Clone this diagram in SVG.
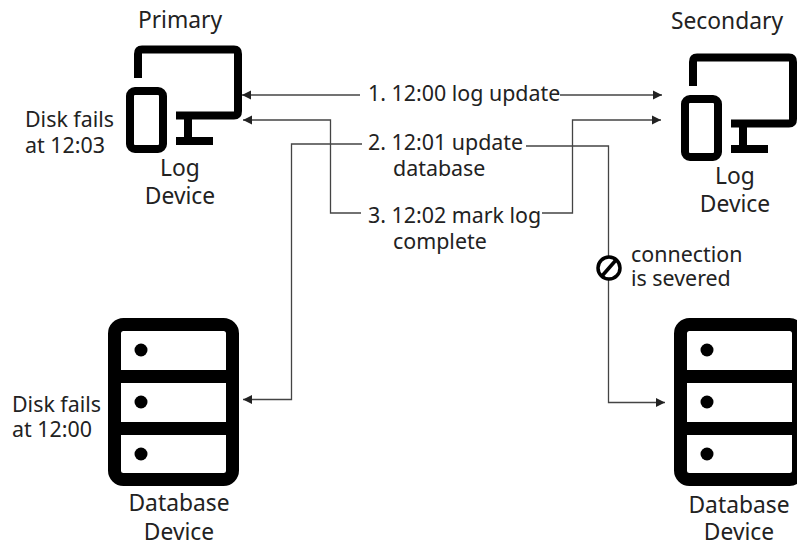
<svg xmlns="http://www.w3.org/2000/svg" width="797" height="546" viewBox="0 0 797 546">
<style>
text{font-family:"Noto Sans","Open Sans",sans-serif;font-size:21.400px;fill:#222}
.m{text-anchor:middle;font-size:22.800px}
.ic{fill:none;stroke:#000;stroke-width:8;stroke-linejoin:round}
.db{fill:none;stroke:#000;stroke-width:13}
.dot{fill:#000}
.c{fill:none;stroke:#444;stroke-width:1.300}
</style>
<defs>
<marker id="a" markerUnits="userSpaceOnUse" markerWidth="10" markerHeight="10" refX="9" refY="5" orient="auto"><path d="M0,0.5L9,5L0,9.5Z" fill="#222"/></marker>
<g id="mon"><path class="ic" d="M138,78V54Q138,49.500 142,49.500H234Q238,49.500 238,54V111Q238,115.500 234,115.500H176M188,116V141M176,141H213"/><rect class="ic" x="130" y="91" width="33" height="58" rx="5"/></g>
<g id="dbi"><rect class="db" x="114.500" y="324.500" width="118" height="155" rx="9"/><path class="db" d="M114,376.500H232M114,428.500H232"/><circle class="dot" cx="141" cy="350" r="6.500"/><circle class="dot" cx="141" cy="402" r="6.500"/><circle class="dot" cx="141" cy="454" r="6.500"/></g>
</defs>
<g id="connectors">
<path class="c" marker-end="url(#a)" d="M360,95H242"/>
<path class="c" marker-end="url(#a)" d="M560,95H662"/>
<path class="c" marker-end="url(#a)" d="M361,213H330.500V120H243"/>
<path class="c" marker-end="url(#a)" d="M542,213H572.500V120H661"/>
<path class="c" marker-end="url(#a)" d="M362,144H291.500V399.500H243"/>
<path class="c" marker-end="url(#a)" d="M526,146H608.500V402.500H665"/>
</g>
<g id="primary-log"><use href="#mon"/><text class="m" x="180" y="28">Primary</text><text x="25" y="127">Disk fails</text><text x="25" y="153">at 12:03</text><text class="m" x="180" y="176">Log</text><text class="m" x="180" y="204">Device</text></g>
<g id="secondary-log"><use href="#mon" x="555" y="8"/><text class="m" x="727" y="29">Secondary</text><text class="m" x="735" y="184">Log</text><text class="m" x="735" y="212">Device</text></g>
<g id="primary-db"><use href="#dbi"/><text x="12" y="412">Disk fails</text><text x="12" y="437">at 12:00</text><text class="m" x="179" y="511">Database</text><text class="m" x="179" y="540">Device</text></g>
<g id="secondary-db"><use href="#dbi" x="566"/><text class="m" x="739" y="513">Database</text><text class="m" x="739" y="540">Device</text></g>
<g id="labels"><text x="368" y="101">1. 12:00 log update</text><text x="368" y="150">2. 12:01 update</text><text x="393" y="176">database</text><text x="368" y="223">3. 12:02 mark log</text><text x="393" y="249">complete</text></g>
<g id="severed"><circle cx="609" cy="268" r="11" fill="#fff" stroke="#000" stroke-width="3.500"/><path d="M602,276L616,260" stroke="#000" stroke-width="3.500"/><text x="631" y="262">connection</text><text x="631" y="286">is severed</text></g>
</svg>
